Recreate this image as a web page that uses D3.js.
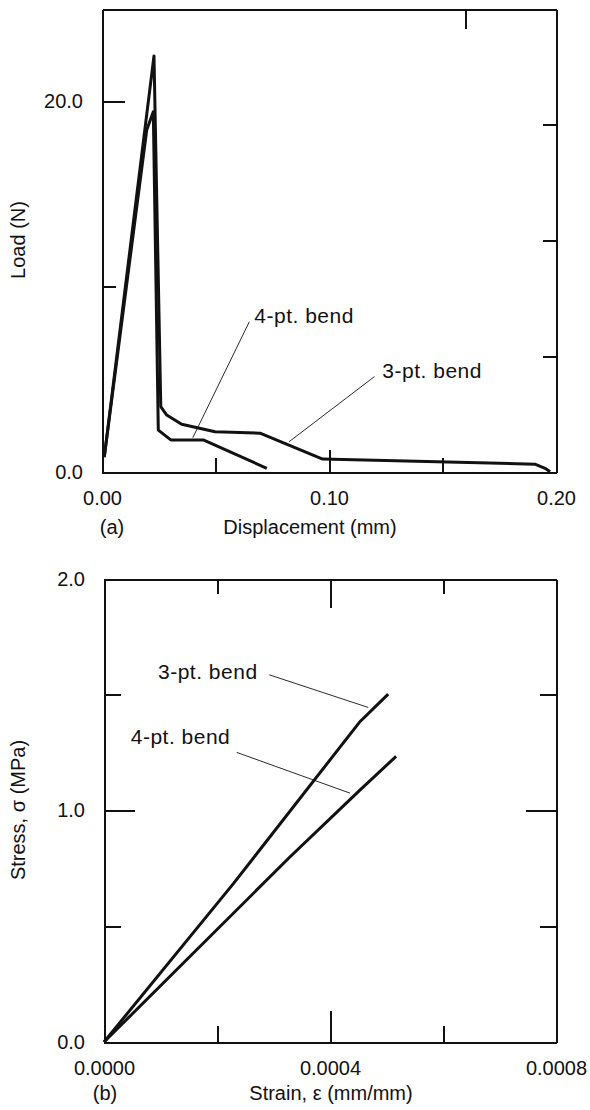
<!DOCTYPE html>
<html>
<head>
<meta charset="utf-8">
<script src="https://cdn.jsdelivr.net/npm/d3@7"></script>
<style>
  body { margin: 0; background: #fff; }
  text { font-family: "Liberation Sans", Arial, sans-serif; fill: #111; }
  .axis path, .axis line { stroke: #111; stroke-width: 2; shape-rendering: crispEdges; }
  .axis text { font-size: 20px; }
</style>
</head>
<body>
<div id="chart"></div>
<script>
// top panel (a): load vs displacement
let threePtDisp = [0.001, 0.0229, 0.0259, 0.0285, 0.0351, 0.0498, 0.0696, 0.0972, 0.1907, 0.1952, 0.1974];
let threePtLoad = [0.8, 22.43, 3.52, 3.07, 2.57, 2.17, 2.09, 0.70, 0.42, 0.20, 0.02];
let fourPtDisp = [0.001, 0.0197, 0.0226, 0.0248, 0.0303, 0.0446, 0.0726];
let fourPtLoad = [0.8, 18.44, 19.42, 2.26, 1.73, 1.73, 0.2];

// bottom panel (b): stress vs strain
let threePtStrain = [0, 0.000229, 0.000452, 0.000503];
let threePtStress = [0, 0.684, 1.381, 1.503];
let fourPtStrain = [0, 0.000329, 0.000452, 0.000517];
let fourPtStress = [0, 0.799, 1.086, 1.234];

// tick labels
let loadTicks = [0, 20];
let loadMinor = [10];
let dispTicks = [0, 0.10, 0.20];
let dispMinor = [0.05, 0.15];
let stressTicks = [0, 1, 2];
let stressMinor = [0.5, 1.5];
let strainTicks = [0, 0.0004, 0.0008];
let strainMinor = [0.0002, 0.0006];

// annotation anchors in data units: text start, leader start, leader end
let notesA = [
    {label: '4-pt. bend', text: [0.0671, 8.05], from: [0.0649, 8.10], to: [0.0400, 1.85]},
    {label: '3-pt. bend', text: [0.1235, 5.05], from: [0.1200, 5.14], to: [0.0824, 1.63]}
];
let notesB = [
    {label: '3-pt. bend', text: [0.0000956, 1.569], from: [0.0002926, 1.586], to: [0.0004678, 1.445]},
    {label: '4-pt. bend', text: [0.0000473, 1.289], from: [0.0002349, 1.251], to: [0.0004354, 1.075]}
];

let svgWidth = 590;
let svgHeight = 1110;

let svg = d3.select('#chart')
    .append('svg')
    .attr('width', svgWidth)
    .attr('height', svgHeight);

// helper to pair up x and y arrays
function zipXY(xs, ys) {
    return xs.map((d, i) => [d, ys[i]]);
}

// draws one framed panel, returns scales + group
function drawPanel(opts) {
    let g = svg.append('g')
        .attr('transform', `translate(${opts.left}, ${opts.top})`);

    let x = d3.scaleLinear().domain(opts.xDomain).range([0, opts.width]);
    let y = d3.scaleLinear().domain(opts.yDomain).range([opts.height, 0]);

    // bottom axis, labelled major ticks
    g.append('g')
        .attr('class', 'axis')
        .attr('transform', `translate(0, ${opts.height})`)
        .call(d3.axisBottom(x).tickValues(opts.xTicks).tickSizeInner(-opts.xMajor).tickSizeOuter(0)
            .tickPadding(19).tickFormat(opts.xFormat));
    g.append('g')
        .attr('class', 'axis')
        .attr('transform', `translate(0, ${opts.height})`)
        .call(d3.axisBottom(x).tickValues(opts.xMinor).tickSize(-opts.xMinorLen).tickFormat(''))
        .call(a => a.select('.domain').remove());

    // left axis
    g.append('g')
        .attr('class', 'axis')
        .call(d3.axisLeft(y).tickValues(opts.yTicks).tickSizeInner(-opts.yMajor).tickSizeOuter(0)
            .tickPadding(19).tickFormat(d3.format('.1f')));
    g.append('g')
        .attr('class', 'axis')
        .call(d3.axisLeft(y).tickValues(opts.yMinor).tickSize(-opts.yMinorLen).tickFormat(''))
        .call(a => a.select('.domain').remove());

    // frame top + right (unlabelled)
    let top = g.append('g')
        .attr('class', 'axis frame')
        .call(d3.axisTop(opts.topScale || x).tickValues(opts.topTicks).tickSize(-opts.topLen).tickSizeOuter(0).tickFormat(''));
    let right = g.append('g')
        .attr('class', 'axis frame')
        .attr('transform', `translate(${opts.width}, 0)`)
        .call(d3.axisRight(opts.rightScale || y).tickValues(opts.rightTicks).tickSize(-opts.rightLen).tickSizeOuter(0).tickFormat(''));

    return {g: g, x: x, y: y, top: top, right: right};
}

function drawSeries(p, pts) {
    let line = d3.line()
        .x(d => p.x(d[0]))
        .y(d => p.y(d[1]));
    p.g.append('path')
        .datum(pts)
        .attr('d', line)
        .attr('fill', 'none')
        .attr('stroke', '#111')
        .attr('stroke-width', 3)
        .attr('stroke-linejoin', 'round');
}

function drawNotes(p, notes) {
    notes.forEach(n => {
        p.g.append('line')
            .attr('x1', p.x(n.from[0])).attr('y1', p.y(n.from[1]))
            .attr('x2', p.x(n.to[0])).attr('y2', p.y(n.to[1]))
            .attr('stroke', '#111')
            .attr('stroke-width', 0.9);
        p.g.append('text')
            .attr('x', p.x(n.text[0]))
            .attr('y', p.y(n.text[1]))
            .style('font-size', '21px')
            .style('letter-spacing', '0.5px')
            .text(n.label);
    });
}

// ---- panel (a)
let pA = drawPanel({
    left: 102, top: 9, width: 454, height: 463,
    xDomain: [0, 0.2], yDomain: [0, 24.96],
    xTicks: dispTicks, xMinor: dispMinor, xMajor: 22, xMinorLen: 14,
    xFormat: d3.format('.2f'),
    yTicks: loadTicks, yMinor: loadMinor, yMajor: 23, yMinorLen: 14,
    topTicks: [0.16], topLen: 20,
    rightScale: d3.scaleLinear().domain([0, 4]).range([463, 0]),
    rightTicks: [1, 2, 3], rightLen: 13
});
drawSeries(pA, zipXY(threePtDisp, threePtLoad));
drawSeries(pA, zipXY(fourPtDisp, fourPtLoad));
drawNotes(pA, notesA);

svg.append('text')
    .attr('transform', 'translate(25, 240) rotate(-90)')
    .attr('text-anchor', 'middle')
    .style('font-size', '20px')
    .text('Load (N)');
svg.append('text')
    .attr('x', 112).attr('y', 534)
    .attr('text-anchor', 'middle')
    .style('font-size', '20px')
    .text('(a)');
svg.append('text')
    .attr('x', 310).attr('y', 534)
    .attr('text-anchor', 'middle')
    .style('font-size', '20px')
    .text('Displacement (mm)');

// ---- panel (b)
let pB = drawPanel({
    left: 104, top: 579, width: 452, height: 463,
    xDomain: [0, 0.0008], yDomain: [0, 2],
    xTicks: strainTicks, xMinor: strainMinor, xMajor: 31, xMinorLen: 16,
    xFormat: d3.format('.4f'),
    yTicks: stressTicks, yMinor: stressMinor, yMajor: 31, yMinorLen: 17,
    topTicks: strainMinor.concat([0.0004]), topLen: 15,
    rightTicks: stressMinor.concat([1]), rightLen: 16
});
// longer inner tick at the middle of the top and right edges
pB.top.selectAll('.tick').filter(d => d === 0.0004).select('line').attr('y2', 29);
pB.right.selectAll('.tick').filter(d => d === 1).select('line').attr('x2', -30);
drawSeries(pB, zipXY(threePtStrain, threePtStress));
drawSeries(pB, zipXY(fourPtStrain, fourPtStress));
drawNotes(pB, notesB);

svg.append('text')
    .attr('transform', 'translate(25, 810) rotate(-90)')
    .attr('text-anchor', 'middle')
    .style('font-size', '20px')
    .text('Stress, σ (MPa)');
svg.append('text')
    .attr('x', 105).attr('y', 1100)
    .attr('text-anchor', 'middle')
    .style('font-size', '20px')
    .text('(b)');
svg.append('text')
    .attr('x', 331).attr('y', 1100)
    .attr('text-anchor', 'middle')
    .style('font-size', '20px')
    .text('Strain, ε (mm/mm)');
</script>
</body>
</html>
